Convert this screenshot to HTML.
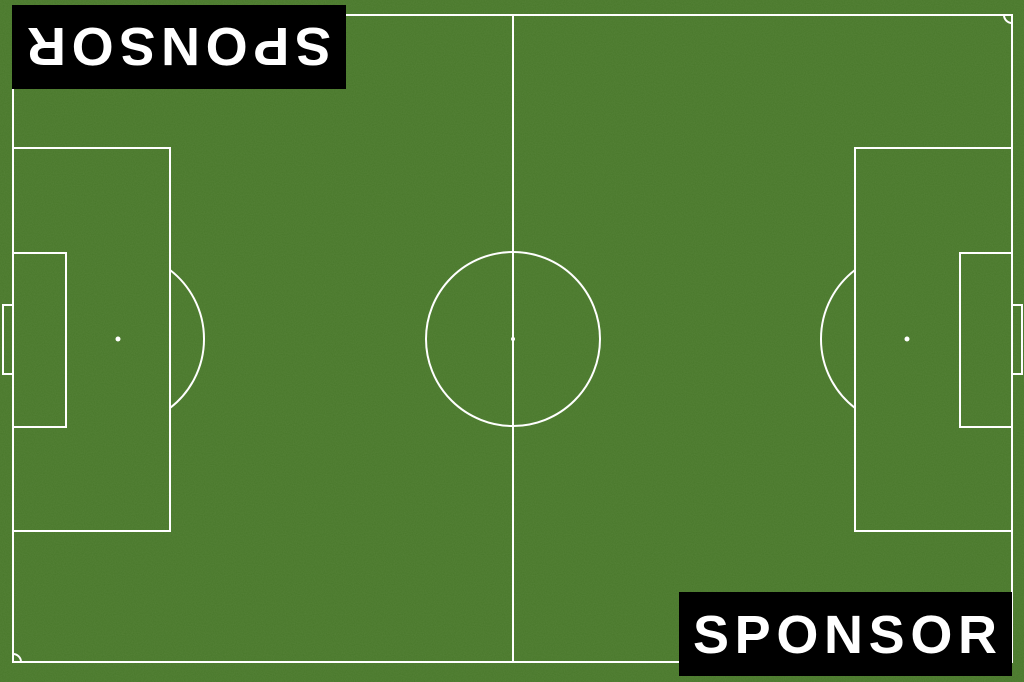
<!DOCTYPE html>
<html>
<head>
<meta charset="utf-8">
<style>
html,body{margin:0;padding:0;background:#46752a;}
svg{display:block;}
.sponsor{font-family:"Liberation Sans",sans-serif;font-weight:bold;font-size:54px;fill:#fff;}
</style>
</head>
<body>
<svg width="1024" height="682" viewBox="0 0 1024 682">
  <defs>
    <filter id="grass" x="0" y="0" width="100%" height="100%">
      <feTurbulence type="fractalNoise" baseFrequency="0.9" numOctaves="2" seed="3" result="n"/>
      <feColorMatrix in="n" type="matrix" values="0 0 0 0 0.18  0 0 0 0 0.34  0 0 0 0 0.10  0 0 0 0.3 0"/>
    </filter>
  </defs>
  <rect x="0" y="0" width="1024" height="682" fill="#48772a"/>
  <rect x="0" y="0" width="1024" height="682" filter="url(#grass)"/>
  <g fill="none" stroke="#ffffff" stroke-width="2">
    <rect x="13" y="15" width="999" height="647"/>
    <line x1="513" y1="15" x2="513" y2="662"/>
    <circle cx="513" cy="339" r="87"/>
    <rect x="13" y="148" width="157" height="383"/>
    <rect x="13" y="253" width="53" height="174"/>
    <path d="M170 270 A87 87 0 0 1 170 408"/>
    <rect x="3" y="305" width="10" height="69"/>
    <rect x="855" y="148" width="157" height="383"/>
    <rect x="960" y="253" width="52" height="174"/>
    <path d="M855 270 A87 87 0 0 0 855 408"/>
    <rect x="1012" y="305" width="10" height="69"/>
    <path d="M13 23 A8 8 0 0 0 21 15"/>
    <path d="M1004 15 A8 8 0 0 0 1012 23"/>
    <path d="M13 654 A8 8 0 0 1 21 662"/>
    <path d="M1004 662 A8 8 0 0 1 1012 654"/>
  </g>
  <g fill="#ffffff">
    <circle cx="513" cy="339" r="2"/>
    <circle cx="118" cy="339" r="2.5"/>
    <circle cx="907" cy="339" r="2.5"/>
  </g>
  <g>
    <rect x="12" y="5" width="334" height="84" fill="#000"/>
    <text class="sponsor" transform="rotate(180 179 47)" x="27" y="66" textLength="304" lengthAdjust="spacing">SPONSOR</text>
  </g>
  <g>
    <rect x="679" y="592" width="333" height="84" fill="#000"/>
    <text class="sponsor" x="693" y="653" textLength="304" lengthAdjust="spacing">SPONSOR</text>
  </g>
</svg>
</body>
</html>
